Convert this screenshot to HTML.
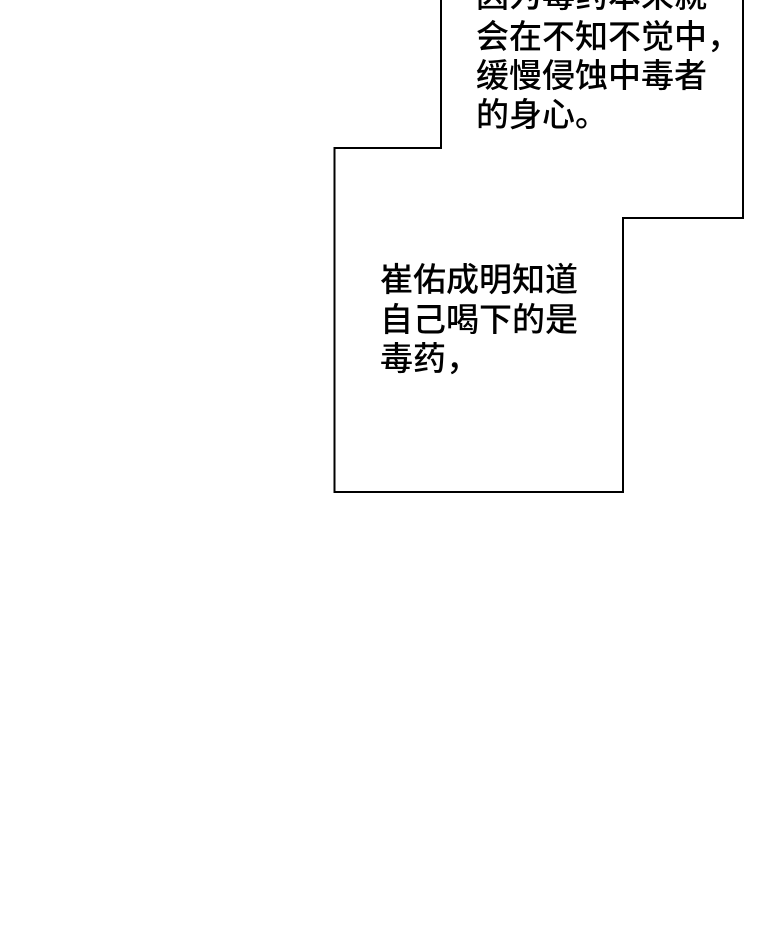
<!DOCTYPE html>
<html><head><meta charset="utf-8"><style>
html,body{margin:0;padding:0;background:#fff;}
body{width:760px;height:932px;position:relative;overflow:hidden;}
.t{position:absolute;font-family:"Liberation Sans","Noto Sans CJK SC",sans-serif;color:#000;white-space:nowrap;font-weight:500;}
.a{font-size:33px;left:476px;}
.b{font-size:33px;left:380px;}
</style></head><body>
<svg width="760" height="932" style="position:absolute;left:0;top:0">
<polyline points="441,-5 441,148 334.5,148 334.5,492 623,492 623,218 743,218 743,-5" fill="none" stroke="#000" stroke-width="2"/>
</svg>
<div class="t a" style="top:-31px">因为毒药本来就</div>
<div class="t a" style="top:10px">会在不知不觉中，</div>
<div class="t a" style="top:49px">缓慢侵蚀中毒者</div>
<div class="t a" style="top:88px">的身心。</div>
<div class="t b" style="top:253px">崔佑成明知道</div>
<div class="t b" style="top:293px">自己喝下的是</div>
<div class="t b" style="top:332px">毒药，</div>
</body></html>
